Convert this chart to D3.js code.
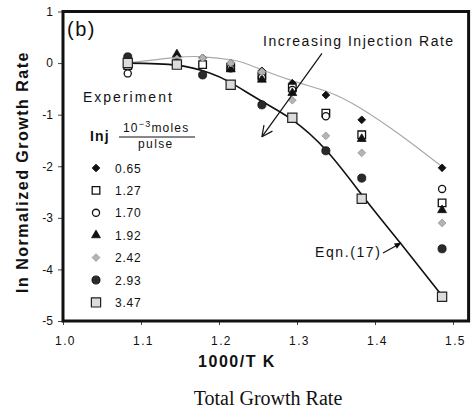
<!DOCTYPE html>
<html><head><meta charset="utf-8">
<script src="https://cdn.jsdelivr.net/npm/d3@7"></script>
<style>
body{margin:0;background:#fff}
text{font-family:"Liberation Sans",Arial,sans-serif;fill:#111}
</style>
</head><body><svg id="c" width="472" height="410"></svg>
<script>
// ---- data ----
const temps = [1.083, 1.146, 1.179, 1.215, 1.255, 1.294, 1.337, 1.383, 1.486];
const injLabels = ["0.65", "1.27", "1.70", "1.92", "2.42", "2.93", "3.47"];
const inj065 = [0.00, 0.05, 0.10, 0.00, -0.15, -0.39, -0.62, -1.10, -2.03];
const inj127 = [-0.05, 0.00, -0.03, -0.08, -0.25, -0.48, -0.97, -1.39, -2.71];
const inj170 = [-0.20, 0.00, null, -0.10, -0.28, -0.52, -1.03, null, -2.44];
const inj192 = [-0.03, 0.17, null, -0.12, -0.32, -0.58, null, -1.47, -2.85];
const inj242 = [0.02, 0.08, 0.10, 0.00, -0.17, -0.72, -1.41, -1.74, -3.10];
const inj293 = [0.12, 0.00, -0.23, null, -0.81, null, -1.70, -2.23, -3.60];
const inj347 = [0.00, -0.03, null, -0.42, null, -1.06, null, -2.63, -4.53];
const fitX = [1.083, 1.146, 1.179, 1.217, 1.240, 1.292, 1.340, 1.381, 1.432, 1.486];
const fitY = [0.00, 0.11, 0.12, 0.06, -0.04, -0.33, -0.56, -0.87, -1.39, -2.01];
const eqnX = [1.083, 1.146, 1.188, 1.214, 1.256, 1.294, 1.338, 1.385, 1.432, 1.486];
const eqnY = [0.00, -0.04, -0.19, -0.37, -0.75, -1.10, -1.70, -2.59, -3.48, -4.51];
const xTicks = [1.0, 1.1, 1.2, 1.3, 1.4, 1.5];
const yTicks = [1, 0, -1, -2, -3, -4, -5];

const seriesVals = [inj065, inj127, inj170, inj192, inj242, inj293, inj347];

// ---- styles ----
const styles = [
  {type: "diamond", size: 30, fill: "#111", stroke: "#111", sw: 0.8},
  {type: "square", size: 58, fill: "#fff", stroke: "#111", sw: 1.3},
  {type: "circle", size: 40, fill: "#fff", stroke: "#111", sw: 1.3},
  {type: "triangle", size: 34, fill: "#111", stroke: "#111", sw: 0.8},
  {type: "diamond", size: 30, fill: "#b4b4b4", stroke: "#9a9a9a", sw: 0.8},
  {type: "circle", size: 52, fill: "#2a2a2a", stroke: "#111", sw: 0.8},
  {type: "square", size: 85, fill: "#dcdcdc", stroke: "#222", sw: 1.2}
];
function symPath(st) {
  const t = st.type === "circle" ? d3.symbolCircle :
            st.type === "triangle" ? d3.symbolTriangle : d3.symbolSquare;
  return d3.symbol(t, st.size)();
}
function symRot(st) { return st.type === "diamond" ? " rotate(45)" : ""; }

const svg = d3.select("#c");
const x = d3.scaleLinear().domain([1.0, 1.52]).range([63, 468.6]);
const y = d3.scaleLinear().domain([-5, 1]).range([321, 11.5]);

// axes
const xAxis = d3.axisBottom(x).tickValues(xTicks).tickSize(4).tickFormat(d3.format(".1f"));
const yAxis = d3.axisLeft(y).tickValues(yTicks).tickSize(4).tickFormat(d => d < 0 ? "-" + Math.abs(d) : d);
const gx = svg.append("g").attr("transform", "translate(0,321)").call(xAxis);
gx.select(".domain").remove();
gx.selectAll("line").attr("stroke", "#444");
gx.selectAll("text").attr("dy", "1.45em").attr("dx", "2").style("font-size", "12px").style("letter-spacing", "1.4px").attr("fill", "#222");
const gy = svg.append("g").attr("transform", "translate(62,0)").call(yAxis);
gy.select(".domain").remove();
gy.selectAll("line").attr("stroke", "#444");
gy.selectAll("text").attr("x", -9).style("font-size", "12px").attr("fill", "#222");

// frame
svg.append("rect").attr("x", x(1.0)).attr("y", y(1)).attr("width", x(1.52) - x(1.0)).attr("height", y(-5) - y(1))
  .attr("fill", "none").attr("stroke", "#111").attr("stroke-width", 3);

// curves
const line = d3.line().x(d => x(d[0])).y(d => y(d[1])).curve(d3.curveNatural);
svg.append("path").attr("d", line(d3.zip(fitX, fitY))).attr("fill", "none").attr("stroke", "#a8a8a8").attr("stroke-width", 1.1);
svg.append("path").attr("d", line(d3.zip(eqnX, eqnY))).attr("fill", "none").attr("stroke", "#111").attr("stroke-width", 1.6);

// points
seriesVals.forEach((vals, i) => {
  const st = styles[i];
  const pts = temps.map((t, j) => [t, vals[j]]).filter(d => d[1] !== null);
  svg.append("g").selectAll("path").data(pts).join("path")
    .attr("d", symPath(st))
    .attr("transform", d => `translate(${x(d[0])},${y(d[1])})${symRot(st)}`)
    .attr("fill", st.fill).attr("stroke", st.stroke).attr("stroke-width", st.sw);
});

// legend
const lg = svg.append("g");
injLabels.forEach((lab, i) => {
  const st = styles[i];
  const yy = 168 + i * 22.4;
  lg.append("path").attr("d", symPath(st)).attr("transform", `translate(96,${yy})${symRot(st)}`)
    .attr("fill", st.fill).attr("stroke", st.stroke).attr("stroke-width", st.sw);
  lg.append("text").attr("x", 115).attr("y", yy + 4.5).text(lab).style("font-size", "12px").style("letter-spacing", "0.8px");
});

// texts
svg.append("text").attr("x", 67).attr("y", 36).text("(b)").style("font-size", "20px").style("letter-spacing", "1.5px");
svg.append("text").attr("x", 83).attr("y", 102).text("Experiment").style("font-size", "14px").style("letter-spacing", "2px");
svg.append("text").attr("x", 90).attr("y", 141).text("Inj").style("font-size", "14px").style("font-weight", "bold").style("letter-spacing", "1.2px");
const frac = svg.append("text").attr("x", 123).attr("y", 132).style("font-size", "12px").style("letter-spacing", "1.2px");
frac.append("tspan").text("10");
frac.append("tspan").text("\u22123").attr("dy", -5).style("font-size", "9px");
frac.append("tspan").text("moles").attr("dy", 5);
svg.append("line").attr("x1", 119).attr("x2", 195).attr("y1", 137).attr("y2", 137).attr("stroke", "#111").attr("stroke-width", 1);
svg.append("text").attr("x", 138).attr("y", 148).text("pulse").style("font-size", "12px").style("letter-spacing", "1.4px");

svg.append("text").attr("x", 263).attr("y", 46).text("Increasing Injection Rate").style("font-size", "14px").style("letter-spacing", "1.5px");

// Arrow for increasing injection rate
const a0 = [x(1.332), y(0.19)], a1 = [x(1.255), y(-1.43)];
svg.append("line").attr("x1", a0[0]).attr("y1", a0[1]).attr("x2", a1[0]).attr("y2", a1[1]).attr("stroke", "#111").attr("stroke-width", 1.2);
{
  const ang = Math.atan2(a1[1] - a0[1], a1[0] - a0[0]);
  const L = 12, spread = 0.45;
  [ang + Math.PI - spread, ang + Math.PI + spread].forEach(a => {
    svg.append("line").attr("x1", a1[0]).attr("y1", a1[1])
      .attr("x2", a1[0] + L * Math.cos(a)).attr("y2", a1[1] + L * Math.sin(a))
      .attr("stroke", "#111").attr("stroke-width", 1.2);
  });
}

// Eqn.(17) label and arrow
svg.append("text").attr("x", 315).attr("y", 257).text("Eqn.(17)").style("font-size", "14px").style("letter-spacing", "1.6px");
{
  const b0 = [383, 253], b1 = [x(1.434), y(-3.48)];
  svg.append("line").attr("x1", b0[0]).attr("y1", b0[1]).attr("x2", b1[0] - 4).attr("y2", b1[1] + 2.5).attr("stroke", "#111").attr("stroke-width", 1.2);
  const ang = Math.atan2(b1[1] - b0[1], b1[0] - b0[0]);
  const L = 7, w = 3;
  const bx = b1[0] - L * Math.cos(ang), by = b1[1] - L * Math.sin(ang);
  svg.append("path").attr("d", `M${b1[0]},${b1[1]}L${bx + w * Math.sin(ang)},${by - w * Math.cos(ang)}L${bx - w * Math.sin(ang)},${by + w * Math.cos(ang)}Z`).attr("fill", "#111");
}

// axis titles
svg.append("text").attr("x", 237).attr("y", 367).attr("text-anchor", "middle").text("1000/T K")
  .style("font-size", "16px").style("font-weight", "bold").style("letter-spacing", "1.5px");
svg.append("text").attr("transform", "translate(28,172) rotate(-90)").attr("text-anchor", "middle").text("ln Normalized Growth Rate")
  .style("font-size", "16px").style("font-weight", "bold").style("letter-spacing", "1.5px");
svg.append("text").attr("x", 268).attr("y", 405).attr("text-anchor", "middle").text("Total Growth Rate")
  .style("font-family", "'Liberation Serif','Times New Roman',serif").style("font-size", "20px");
</script>
</body></html>
